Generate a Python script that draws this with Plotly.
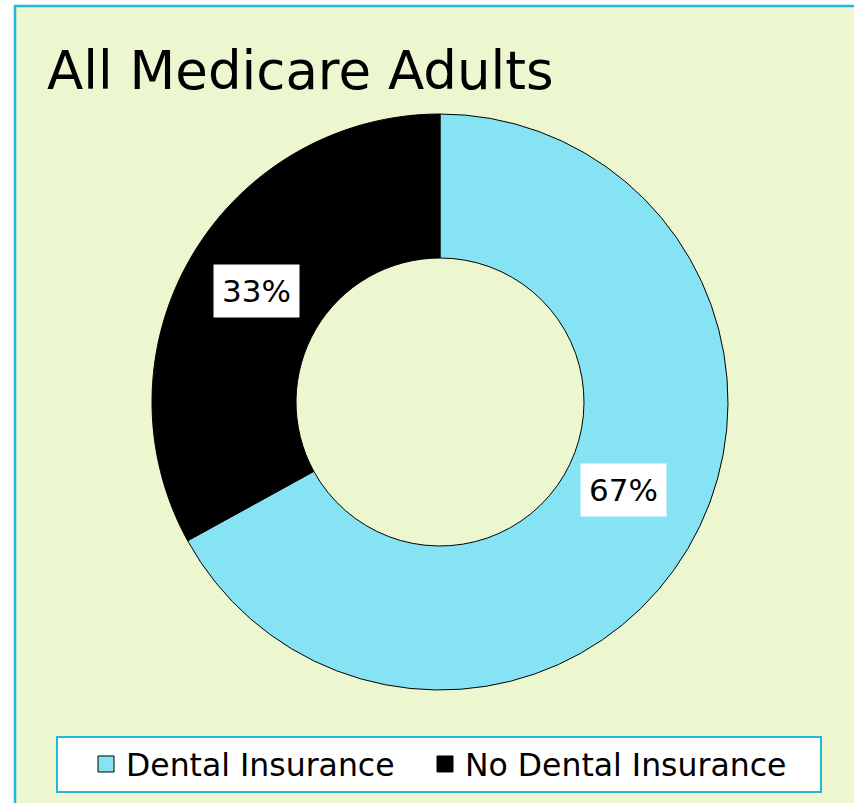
import math
import plotly.graph_objects as go

# ---- data ----
labels = ["Dental Insurance", "No Dental Insurance"]
values = [67, 33]
colors = ["#86E3F4", "#000000"]
title_text = "All Medicare Adults"

# ---- layout constants (pixels, in screenshot coordinates) ----
W, H = 854, 803
CX, CY, R = 440, 402, 288
HOLE = 0.5
BG = "#ECF6CF"
TEAL = "#22B9D6"
FONT = "DejaVu Sans"
LABEL_YSHIFT = [20, 3]  # per-label vertical nudge (px), style only
LEGEND_X = [86, 425]  # legend entry positions (px)

def px_x(x):
    return x / W

def px_y(y):
    return 1 - y / H

fig = go.Figure()
fig.add_trace(go.Pie(
    labels=labels,
    values=values,
    hole=HOLE,
    sort=False,
    direction="clockwise",
    rotation=0,
    textinfo="none",
    marker=dict(colors=colors, line=dict(color="#000000", width=1)),
    domain=dict(x=[px_x(CX - R), px_x(CX + R)], y=[px_y(CY + R), px_y(CY - R)]),
    showlegend=False,
))

# legend entries (one per category, each in its own legend box)
legend_names = ["legend", "legend2"]
for i, (lab, col) in enumerate(zip(labels, colors)):
    fig.add_trace(go.Scatter(
        x=[None], y=[None], mode="markers", name=lab,
        marker=dict(symbol="square", size=16, color=col,
                    line=dict(color="#000000", width=1)),
        legend=legend_names[i], showlegend=True, hoverinfo="skip",
    ))

# data labels placed at each slice's mid angle
total = sum(values)
cum = 0
annotations = []
r_lab = 0.74 * R
for i, v in enumerate(values):
    mid = (cum + v / 2) / total * 2 * math.pi
    cum += v
    lx = CX + r_lab * math.sin(mid)
    ly = CY - r_lab * math.cos(mid)
    annotations.append(dict(
        x=px_x(lx), y=px_y(ly), xref="paper", yref="paper",
        text=f"{v}%", showarrow=False,
        font=dict(family=FONT, size=31, color="#000000"),
        bgcolor="#FFFFFF", borderpad=8,
        xanchor="center", yanchor="middle",
        yshift=LABEL_YSHIFT[i],
    ))

annotations.append(dict(
    x=px_x(45), y=px_y(70), xref="paper", yref="paper",
    text=title_text, showarrow=False,
    font=dict(family=FONT, size=53, color="#000000"),
    xanchor="left", yanchor="middle",
))

shapes = [
    dict(type="rect", xref="paper", yref="paper",
         x0=px_x(15), y0=-0.1, x1=1.1, y1=px_y(6),
         fillcolor=BG, line=dict(color=TEAL, width=2.5), layer="below"),
    dict(type="rect", xref="paper", yref="paper",
         x0=px_x(57), y0=px_y(792), x1=px_x(821), y1=px_y(737),
         fillcolor="#FFFFFF", line=dict(color=TEAL, width=2), layer="below"),
]

legend_style = dict(
    orientation="h", xanchor="left", yanchor="middle", y=px_y(764),
    bgcolor="rgba(0,0,0,0)", borderwidth=0,
    font=dict(family=FONT, size=31.5, color="#000000"),
)

fig.update_layout(
    width=W, height=H,
    margin=dict(l=0, r=0, t=0, b=0),
    paper_bgcolor="#FFFFFF",
    plot_bgcolor="rgba(0,0,0,0)",
    xaxis=dict(visible=False),
    yaxis=dict(visible=False),
    shapes=shapes,
    annotations=annotations,
    legend=dict(x=px_x(LEGEND_X[0]), **legend_style),
    legend2=dict(x=px_x(LEGEND_X[1]), **legend_style),
    font=dict(family=FONT),
    hovermode=False,
)

fig.write_html("out.html", config={"displayModeBar": False},
               post_script="document.body.style.margin='0';")
